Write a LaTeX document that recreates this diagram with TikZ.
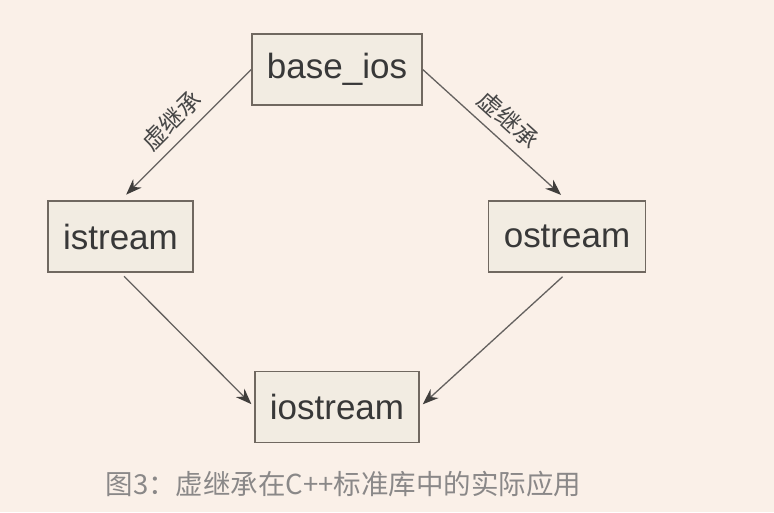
\documentclass[tikz,border=0pt]{standalone}
\usepackage{fontspec}
\setmainfont{Liberation Sans}
\newfontfamily\cjk{Noto Sans CJK SC}
\usetikzlibrary{arrows.meta}
\definecolor{bgpaper}{RGB}{250,240,232}
\definecolor{boxfill}{RGB}{242,236,226}
\definecolor{boxline}{RGB}{112,104,96}
\definecolor{arrowgray}{RGB}{100,97,95}
\definecolor{tipgray}{RGB}{64,62,60}
\definecolor{captiongray}{RGB}{138,136,136}

\begin{document}
\begin{tikzpicture}[x=1pt, y=1pt,
  classbox/.style={shape=rectangle, draw=boxline, fill=boxfill, line width=1.4pt, minimum height=71pt, inner xsep=15pt, text=black!78, font=\fontsize{35}{40}\selectfont},
  derive/.style={-{Stealth[scale=1.8, color=tipgray, fill=tipgray]}, line width=1.3pt, draw=arrowgray},
  virtlabel/.style={sloped, above=5pt, text=black!72, font=\cjk\fontsize{24}{26}\selectfont}]
\fill[bgpaper] (0,0) rectangle (774,-512);
\useasboundingbox (0,0) rectangle (774,-512);
\node[classbox] (base) at (337, -69.5) {base\_ios};
\node[classbox] (istr) at (120.5, -236.5) {istream};
\node[classbox] (ostr) at (567, -236.5) {ostream};
\node[classbox] (iostr) at (337, -407) {iostream};
\node[text=captiongray, font=\cjk\fontsize{27.5}{32}\selectfont] (caption) at (343.5, -484) {图3：虚继承在C++标准库中的实际应用};
\draw [derive, shorten >=8pt] (base.west) -- node[virtlabel] {虚继承} (istr.north);
\draw [derive, shorten >=8pt] (base.east) -- node[virtlabel] {虚继承} (ostr.north);
\draw [derive, shorten <=5pt, shorten >=4pt] (istr.south) -- (iostr.west);
\draw [derive, shorten <=6pt, shorten >=4pt] (ostr.south) -- (iostr.east);
\end{tikzpicture}
\end{document}
